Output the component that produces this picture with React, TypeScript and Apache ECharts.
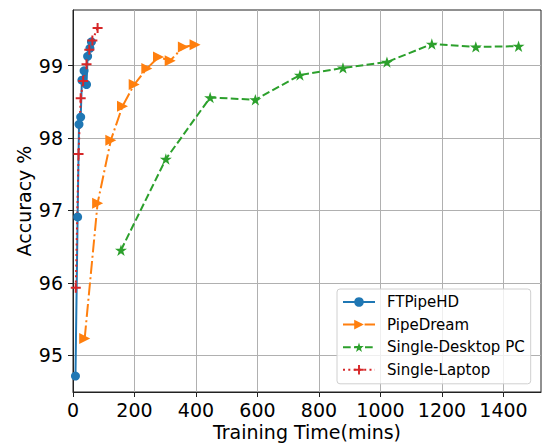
import React, { useEffect, useRef } from "react";
import * as echarts from "echarts";

// Data
const ftTime = [8, 15, 19.5, 25, 29, 36, 44, 47.5, 55, 60];
const ftAcc = [94.71, 96.91, 98.19, 98.29, 98.8, 98.93, 98.74, 99.13, 99.24, 99.33];

const pdTime = [38, 80, 123, 161, 199, 240, 278, 316, 359, 397];
const pdAcc = [95.23, 97.1, 97.97, 98.44, 98.74, 98.96, 99.12, 99.07, 99.26, 99.29];

const dtTime = [156, 302, 446, 593, 738, 878, 1021, 1167, 1310, 1449];
const dtAcc = [96.45, 97.71, 98.56, 98.53, 98.87, 98.97, 99.05, 99.3, 99.26, 99.27];

const lpTime = [9, 18, 25, 33, 44, 53, 63, 80];
const lpAcc = [95.93, 97.78, 98.55, 98.79, 99.02, 99.22, 99.35, 99.52];

const seriesNames = ["FTPipeHD", "PipeDream", "Single-Desktop PC", "Single-Laptop"];
const xTicks = [0, 200, 400, 600, 800, 1000, 1200, 1400];
const yTicks = [95, 96, 97, 98, 99];

const STAR =
  "path://M50,0L61.2,34.5L97.6,34.5L68.2,55.9L79.4,90.5L50,69.1L20.6,90.5L31.8,55.9L2.4,34.5L38.8,34.5Z";
const PLUS = "path://M4,0H6V4H10V6H6V10H4V6H0V4H4Z";
const TRI_RIGHT = "path://M0,0L10,5L0,10Z";

const zip = (a: number[], b: number[]) => a.map((v, i) => [v, b[i]]);

export default function App() {
  const ref = useRef<HTMLDivElement>(null);
  useEffect(() => {
    const chart = echarts.init(ref.current!, null, { renderer: "svg" });
    const font = "DejaVu Sans";
    chart.setOption({
      animation: false,
      backgroundColor: "#fff",
      grid: {
        left: 73,
        right: 4,
        top: 10,
        bottom: 55,
        show: true,
        borderColor: "#222",
        borderWidth: 1,
        backgroundColor: "transparent",
      },
      legend: {
        orient: "vertical",
        left: 337,
        top: 289,
        data: seriesNames,
        padding: [4, 6, 5, 5],
        itemWidth: 32,
        itemHeight: 12,
        itemGap: 4.6,
        borderColor: "#d0d0d0",
        borderWidth: 1,
        borderRadius: 3,
        backgroundColor: "rgba(255,255,255,0.8)",
        textStyle: {
          fontFamily: font,
          fontSize: 15,
          color: "#000",
          lineHeight: 18,
          padding: [0, 0, 0, 7],
        },
      },
      xAxis: {
        type: "value",
        min: 0,
        max: 1522,
        interval: 200,
        name: "Training Time(mins)",
        nameLocation: "middle",
        nameGap: 30,
        nameMoveOverlap: false,
        nameTextStyle: { fontFamily: font, fontSize: 19, color: "#000" },
        axisLine: { show: true, lineStyle: { color: "#222", width: 1 } },
        axisTick: { show: true, length: 5, lineStyle: { color: "#222" }, customValues: xTicks },
        axisLabel: {
          customValues: xTicks,
          formatter: (v: number) => String(v),
          fontFamily: font,
          fontSize: 19,
          color: "#000",
          margin: 8,
        },
        splitLine: { show: true, lineStyle: { color: "#b0b0b0", width: 1 } },
      },
      yAxis: {
        type: "value",
        min: 94.49,
        max: 99.77,
        name: "Accuracy %",
        nameLocation: "middle",
        nameGap: 40,
        nameMoveOverlap: false,
        nameTextStyle: { fontFamily: font, fontSize: 19, color: "#000" },
        axisLine: { show: true, lineStyle: { color: "#222", width: 1 } },
        axisTick: { show: true, length: 5, lineStyle: { color: "#222" }, customValues: yTicks },
        axisLabel: {
          customValues: yTicks,
          formatter: (v: number) => String(v),
          fontFamily: font,
          fontSize: 19,
          color: "#000",
          margin: 10,
        },
        splitLine: { show: true, lineStyle: { color: "#b0b0b0", width: 1 } },
      },
      series: [
        {
          name: seriesNames[0],
          type: "line",
          data: zip(ftTime, ftAcc),
          symbol: "circle",
          symbolSize: 9,
          color: "#1f77b4",
          lineStyle: { color: "#1f77b4", width: 2 },
          itemStyle: { color: "#1f77b4" },
        },
        {
          name: seriesNames[1],
          type: "line",
          data: zip(pdTime, pdAcc),
          symbol: TRI_RIGHT,
          symbolSize: 11,
          symbolKeepAspect: true,
          color: "#ff7f0e",
          lineStyle: { color: "#ff7f0e", width: 2, type: [13, 3.3, 2, 3.3] },
          itemStyle: { color: "#ff7f0e" },
        },
        {
          name: seriesNames[2],
          type: "line",
          data: zip(dtTime, dtAcc),
          symbol: STAR,
          symbolSize: 12,
          symbolKeepAspect: true,
          color: "#2ca02c",
          lineStyle: { color: "#2ca02c", width: 2, type: [7.7, 3.3] },
          itemStyle: { color: "#2ca02c" },
        },
        {
          name: seriesNames[3],
          type: "line",
          data: zip(lpTime, lpAcc),
          symbol: PLUS,
          symbolSize: 10,
          color: "#d62728",
          lineStyle: { color: "#d62728", width: 2, type: [2, 3.3] },
          itemStyle: { color: "#d62728" },
        },
      ],
    });
    return () => chart.dispose();
  }, []);
  return (
    <div
      ref={ref}
      style={{ position: "fixed", left: 0, top: 0, width: 545, height: 447, background: "#fff" }}
    />
  );
}
